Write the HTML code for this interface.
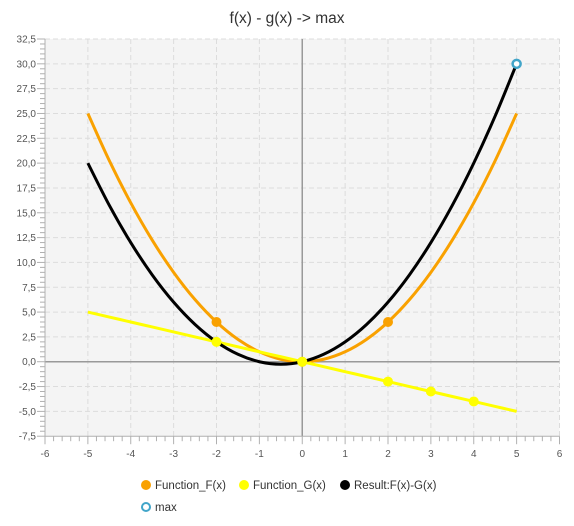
<!DOCTYPE html>
<html><head><meta charset="utf-8"><style>
html,body{margin:0;padding:0;background:#fff;}
svg{display:block;font-family:"Liberation Sans",sans-serif;}
</style></head><body>
<svg id="c" width="574" height="526">
<text x="287" y="23" text-anchor="middle" font-size="15.5" fill="#333">f(x) - g(x) -&gt; max</text>
</svg>
<script>
const xTicks=[-6,-5,-4,-3,-2,-1,0,1,2,3,4,5,6];
const yTicks=[-7.5,-5,-2.5,0,2.5,5,7.5,10,12.5,15,17.5,20,22.5,25,27.5,30,32.5];
const curveX=[-5,-4.5,-4,-3.5,-3,-2.5,-2,-1.5,-1,-0.5,0,0.5,1,1.5,2,2.5,3,3.5,4,4.5,5];
const fVals=[25,20.25,16,12.25,9,6.25,4,2.25,1,0.25,0,0.25,1,2.25,4,6.25,9,12.25,16,20.25,25];
const gVals=[5,4.5,4,3.5,3,2.5,2,1.5,1,0.5,0,-0.5,-1,-1.5,-2,-2.5,-3,-3.5,-4,-4.5,-5];
const rVals=[20,15.75,12,8.75,6,3.75,2,0.75,0,-0.25,0,0.75,2,3.75,6,8.75,12,15.75,20,24.75,30];
const fPtsX=[-2,0,2], fPtsY=[4,0,4];
const gPtsX=[-2,0,2,3,4], gPtsY=[2,0,-2,-3,-4];
const maxX=[5], maxY=[30];
const L=45,R=559.5,T=39,B=436.2,X0=-6,X1=6,Y0=-7.5,Y1=32.5;
const sx=v=>L+(v-X0)/(X1-X0)*(R-L);
const sy=v=>B-(v-Y0)/(Y1-Y0)*(B-T);
const svg=document.getElementById('c');const NS='http://www.w3.org/2000/svg';
function mk(t,a,p){const e=document.createElementNS(NS,t);for(const k in a)e.setAttribute(k,a[k]);(p||svg).appendChild(e);return e;}
const bg=mk('rect',{x:L,y:T,width:R-L,height:B-T,fill:'#f4f4f4'});


const grid=mk('g',{stroke:'#dcdcdc','stroke-dasharray':'5,3','stroke-width':1});


xTicks.forEach(v=>{if(v!==0&&v!==X0)mk('line',{x1:sx(v),x2:sx(v),y1:T,y2:B},grid);});
yTicks.forEach(v=>{if(v!==0&&v!==Y0)mk('line',{x1:L,x2:R,y1:sy(v),y2:sy(v)},grid);});
const zx=mk('line',{x1:L,x2:R,y1:sy(0),y2:sy(0),stroke:'#999','stroke-width':1.5});


const zy=mk('line',{x1:sx(0),x2:sx(0),y1:T,y2:B,stroke:'#999','stroke-width':1.5});


const ax=mk('g',{stroke:'#b0b0b0','stroke-width':1});


mk('line',{x1:L,x2:L,y1:T,y2:B},ax);mk('line',{x1:L,x2:R,y1:B,y2:B},ax);
const lab=mk('g',{'font-size':'10','fill':'#555'});


xTicks.forEach((v,i)=>{mk('line',{x1:sx(v),x2:sx(v),y1:B,y2:B+8},ax);
 if(i<xTicks.length-1)for(let k=1;k<5;k++){const xx=sx(v+k*0.2);mk('line',{x1:xx,x2:xx,y1:B,y2:B+5},ax);}
 const t=mk('text',{x:sx(v),y:B+21,'text-anchor':'middle'},lab);t.textContent=String(v);});
yTicks.forEach((v,i)=>{mk('line',{x1:L-8,x2:L,y1:sy(v),y2:sy(v)},ax);
 if(i<yTicks.length-1)for(let k=1;k<5;k++){const yy=sy(v+k*0.5);mk('line',{x1:L-5,x2:L,y1:yy,y2:yy},ax);}
 const t=mk('text',{x:L-9,y:sy(v)+3.5,'text-anchor':'end'},lab);t.textContent=v.toFixed(1).replace('.',',');});
function series(vals,color,name){
 const P=curveX.map((x,i)=>[sx(x),sy(vals[i])]);
 let d='M'+P[0][0].toFixed(2)+','+P[0][1].toFixed(2);
 for(let i=0;i<P.length-1;i++){const p0=P[Math.max(0,i-1)],p1=P[i],p2=P[i+1],p3=P[Math.min(P.length-1,i+2)];
  const c1=[p1[0]+(p2[0]-p0[0])/6,p1[1]+(p2[1]-p0[1])/6],c2=[p2[0]-(p3[0]-p1[0])/6,p2[1]-(p3[1]-p1[1])/6];
  d+=' C'+c1.map(n=>n.toFixed(2))+' '+c2.map(n=>n.toFixed(2))+' '+p2.map(n=>n.toFixed(2));}
 const p=mk('path',{d:d,fill:'none',stroke:color,'stroke-width':3,'stroke-linejoin':'round'});
 
 }
series(fVals,'#f9a100','series-f-line');
series(gVals,'#ffff00','series-g-line');
series(rVals,'#000','series-result-line');
function pts(xs,ys,color,name){xs.forEach((x,i)=>{const c=mk('circle',{cx:sx(x),cy:sy(ys[i]),r:5,fill:color});
 
 });}
pts(fPtsX,fPtsY,'#f9a100','f-point');
pts(gPtsX,gPtsY,'#ffff00','g-point');
maxX.forEach((x,i)=>{const c=mk('circle',{cx:sx(x),cy:sy(maxY[i]),r:4,fill:'#fff',stroke:'#41a5c9','stroke-width':2.5});
 
 });
const leg=[['Function_F(x)','#f9a100',146,485,0],['Function_G(x)','#ffff00',244,485,0],['Result:F(x)-G(x)','#000',345,485,0],['max','#41a5c9',146,507,1]];
leg.forEach(l=>{const g=mk('g',{});
 
 
 if(l[4])mk('circle',{cx:l[2],cy:l[3],r:4,fill:'#fff',stroke:l[1],'stroke-width':2},g);
 else mk('circle',{cx:l[2],cy:l[3],r:5,fill:l[1]},g);
 const t=mk('text',{x:l[2]+9,y:l[3]+4,'font-size':'11.5',fill:'#333'},g);t.textContent=l[0];});
</script>
</body></html>
